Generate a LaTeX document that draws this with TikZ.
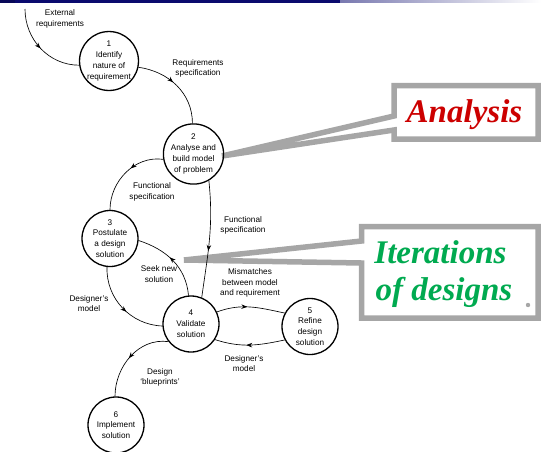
\documentclass[tikz,border=0pt]{standalone}
\usepackage{fontspec}
\setmainfont{Liberation Sans}
\newfontfamily\callfont{Liberation Serif}
\usetikzlibrary{arrows.meta,decorations.markings}
\definecolor{navybar}{RGB}{10,10,110}
\definecolor{callgray}{RGB}{166,166,166}
\definecolor{callred}{RGB}{204,0,0}
\definecolor{callgreen}{RGB}{0,170,80}
\tikzset{
  proc/.style={draw, circle, line width=1.3pt, minimum size=56pt, inner sep=0pt, align=center, font=\fontsize{8.2}{10.8}\selectfont},
  lbl/.style={align=center, inner sep=0pt, font=\fontsize{8.2}{10.6}\selectfont},
  flow/.style={draw, line width=0.65pt, postaction={decorate},
    decoration={markings, mark=at position #1 with {\arrow{Stealth[length=6pt,width=4.5pt]}}}},
  flow/.default=0.5,
  callout/.style={draw=callgray, fill=white, line width=5.5pt, line join=miter},
  calltext/.style={inner sep=0pt, anchor=base, font=\fontsize{33}{37}\callfont\bfseries\itshape}
}
\begin{document}
\begin{tikzpicture}[x=1pt,y=-1pt]
\useasboundingbox (0,0) rectangle (541,451);
% top bar
\fill[navybar] (0,0) rectangle (340,2.5);
\shade[left color=navybar!55, right color=white] (340,0) rectangle (541,2.2);
\fill[navybar!80!black] (0,0) rectangle (15,3);

% callouts
\draw[callout] (394,85.5) -- (538,85.5) -- (538,139) -- (394,139) -- (394,130) -- (222,156) -- (394,116) -- cycle;
\node[calltext, text=callred] (ana) at (464.5,122) {Analysis};
\draw[callout] (361.5,226.5) -- (538,226.5) -- (538,318) -- (361.5,318) -- (361.5,263) -- (184,260) -- (361.5,241) -- cycle;
\node[calltext, text=callgreen] (it1) at (440.5,263) {Iterations};
\node[calltext, text=callgreen] (it2) at (444,300) {of designs};
\fill[callgray] (528,305) circle (2.2);

% processes
\node[proc] (c1) at (109,61) {1\\Identify\\nature of\\requirement};
\node[proc] (c2) at (193.5,154) {2\\Analyse and\\build model\\of problem};
\node[proc] (c3) at (110,238.5) {3\\Postulate\\a design\\solution};
\node[proc] (c4) at (191,324) {4\\Validate\\solution};
\node[proc] (c5) at (310,326.5) {5\\Refine\\design\\solution};
\node[proc] (c6) at (116,425) {6\\Implement\\solution};

% labels
\node[lbl] (l1) at (60,19) {External\\requirements};
\node[lbl] (l2) at (198,68.5) {Requirements\\specification};
\node[lbl] (l3) at (152,192) {Functional\\specification};
\node[lbl] (l4) at (243,225.5) {Functional\\specification};
\node[lbl] (l5) at (159,274) {Seek new\\solution};
\node[lbl] (l6) at (250,283) {Mismatches\\between model\\and requirement};
\node[lbl] (l7) at (89,303.5) {Designer's\\model};
\node[lbl] (l8) at (244,363.5) {Designer's\\model};
\node[lbl] (l9) at (160,377.5) {Design\\`blueprints'};

% connectors
\coordinate (ext) at (25,9);
\draw[flow=0.5] (ext) to[out=-90, in=180] (c1.188);
\draw[flow=0.45] (c1.-12) to[out=-8, in=90] (c2.92);
\draw[flow=0.42] (c2.190) to[out=172, in=90] (c3.90);
\draw[flow=0.6] (c2.-60) to[out=-84, in=82] (c4.68);
\draw[flow=0.55] (c4.95) to[out=95, in=-18] (c3.-4);
\draw[flow=0.56] (c3.-96) to[out=-92, in=178] (c4.184);
\draw[flow=0.45] (c4.25) to[out=20, in=168] (c5.152);
\draw[flow=0.55] (c5.208) to[out=-168, in=-18] (c4.-33);
\draw[flow=0.52] (c4.218) to[out=172, in=90] (c6.92);
\end{tikzpicture}
\end{document}
